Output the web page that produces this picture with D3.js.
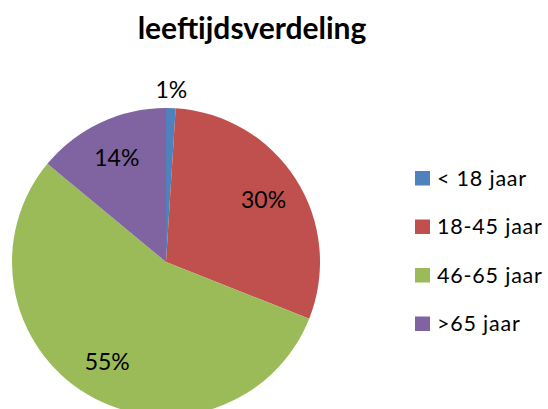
<!DOCTYPE html>
<html>
<head>
<meta charset="utf-8">
<script src="https://cdn.jsdelivr.net/npm/d3@7"></script>
<style>
  body { margin: 0; background: #fff; }
  text { font-family: Lato, "Open Sans", sans-serif; fill: #000; }
</style>
</head>
<body>
<div id="chart"></div>
<script>
const categories = ["< 18 jaar", "18-45 jaar", "46-65 jaar", ">65 jaar"];
const values = [1, 30, 55, 14];
const labels = ["1%", "30%", "55%", "14%"];
const colors = ["#4f81bd", "#c0504d", "#9bbb59", "#8064a2"];

const width = 548, height = 409;
const cx = 166, cy = 262, radius = 154;

const svg = d3.select("#chart")
    .append("svg")
    .attr("width", width)
    .attr("height", height);

// title
svg.append("text")
    .attr("x", 252)
    .attr("y", 39)
    .attr("text-anchor", "middle")
    .style("font-weight", "bold")
    .style("font-size", "30px")
    .text("leeftijdsverdeling");

const pie = d3.pie().sort(null).value(d => d);
const arcs = pie(values);

const arc = d3.arc().innerRadius(0).outerRadius(radius);
const labelArc = d3.arc().innerRadius(radius * 0.75).outerRadius(radius * 0.75);
const outerArc = d3.arc().innerRadius(radius * 1.12).outerRadius(radius * 1.12);

const g = svg.append("g")
    .attr("transform", `translate(${cx},${cy})`);

g.selectAll("path")
    .data(arcs)
    .join("path")
    .attr("d", arc)
    .attr("fill", (d, i) => colors[i]);

// percentage labels (small slice goes outside)
g.selectAll("text.pct")
    .data(arcs)
    .join("text")
    .attr("class", "pct")
    .attr("transform", d => {
        const p = d.data < 5 ? outerArc.centroid(d) : labelArc.centroid(d);
        return `translate(${p[0]},${p[1]})`;
    })
    .attr("text-anchor", "middle")
    .attr("dy", "0.36em")
    .style("font-size", "23px")
    .text((d, i) => labels[i]);

// legend
const legend = svg.append("g")
    .attr("transform", "translate(415,178)");

const row = legend.selectAll("g")
    .data(categories)
    .join("g")
    .attr("transform", (d, i) => `translate(0,${i * 48.5})`);

row.append("rect")
    .attr("x", 0)
    .attr("y", -7)
    .attr("width", 15)
    .attr("height", 14.5)
    .attr("fill", (d, i) => colors[i]);

row.append("text")
    .attr("x", 22)
    .attr("dy", "0.36em")
    .style("font-size", "21.5px")
    .style("letter-spacing", "0.8px")
    .text(d => d);
</script>
</body>
</html>
